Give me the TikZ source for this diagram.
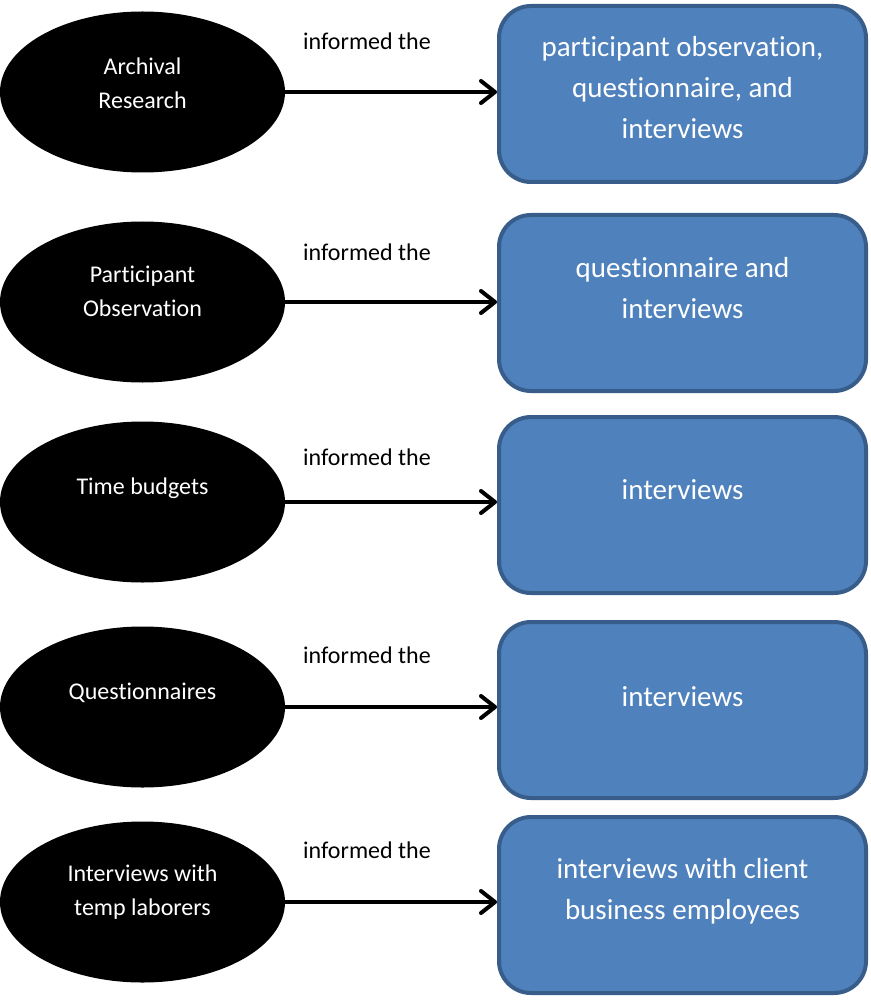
\documentclass[tikz,border=0pt]{standalone}
\usepackage{fontspec}
\setmainfont{Carlito}[Ligatures={NoCommon}]
\usetikzlibrary{shapes.geometric, arrows.meta, positioning}
\definecolor{boxblue}{RGB}{79,129,189}
\definecolor{boxedge}{RGB}{56,93,138}
\tikzset{
  srcnode/.style={ellipse, fill=black, minimum width=285pt,
    minimum height=161pt, inner sep=0pt},
  srctext/.style={align=center, text=white, inner sep=0pt,
    font=\fontsize{24}{34}\selectfont},
  resblock/.style={rectangle, draw=boxedge, fill=boxblue, line width=4pt,
    rounded corners=32pt, minimum width=367pt, minimum height=176pt},
  restext/.style={align=center, text=white, inner sep=0pt,
    font=\fontsize{29}{41}\selectfont},
  linklabel/.style={anchor=west, inner sep=0pt,
    font=\fontsize{24}{34}\selectfont},
  arrow/.style={-{Straight Barb[length=14pt, width=22pt, round]},
    line width=4pt, color=black}
}
\begin{document}
\begin{tikzpicture}[x=1pt, y=-1pt]
  \useasboundingbox (0,0) rectangle (870,1000);

  \node[srcnode] (e1) at (142.5,92) {};
  \node[srctext] (s1) at (142.5,83) {Archival\\Research};
  \node[resblock] (b1) at (682.5,94) {};
  \node[restext] (r1) at (682.5,88) {participant observation,\\questionnaire, and\\interviews};
  \node[linklabel] (l1) at (303,41) {informed the};

  \node[srcnode] (e2) at (142.5,302) {};
  \node[srctext] (s2) at (142.5,291) {Participant\\Observation};
  \node[resblock] (b2) at (682.5,303) {};
  \node[restext] (r2) at (682.5,288) {questionnaire and\\interviews};
  \node[linklabel] (l2) at (303,252) {informed the};

  \node[srcnode] (e3) at (142.5,502) {};
  \node[srctext] (s3) at (142.5,488) {Time budgets};
  \node[resblock] (b3) at (682.5,505) {};
  \node[restext] (r3) at (682.5,490) {interviews};
  \node[linklabel] (l3) at (303,457) {informed the};

  \node[srcnode] (e4) at (142.5,707) {};
  \node[srctext] (s4) at (142.5,693) {Questionnaires};
  \node[resblock] (b4) at (682.5,710) {};
  \node[restext] (r4) at (682.5,697) {interviews};
  \node[linklabel] (l4) at (303,655) {informed the};

  \node[srcnode] (e5) at (142.5,902) {};
  \node[srctext] (s5) at (142.5,892) {Interviews with\\temp laborers};
  \node[resblock] (b5) at (682.5,905) {};
  \node[restext] (r5) at (682.5,891) {interviews with client\\business employees};
  \node[linklabel] (l5) at (303,850) {informed the};

  \draw[arrow] (e1.east) -- (e1.east -| b1.west);
  \draw[arrow] (e2.east) -- (e2.east -| b2.west);
  \draw[arrow] (e3.east) -- (e3.east -| b3.west);
  \draw[arrow] (e4.east) -- (e4.east -| b4.west);
  \draw[arrow] (e5.east) -- (e5.east -| b5.west);
\end{tikzpicture}
\end{document}
